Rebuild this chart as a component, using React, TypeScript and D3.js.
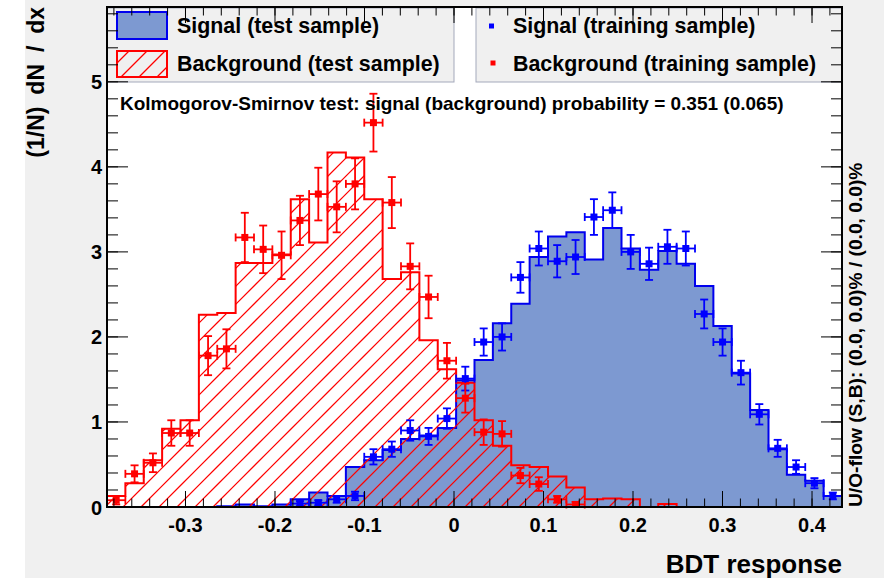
import React from 'react';
import * as d3 from 'd3';

const W = 896;
const H = 578;

// Histogram range of the BDT response (40 equal-width bins)
const X_MIN = -0.3877;
const X_MAX = 0.4335;
const N_BINS = 40;
const Y_MAX = 5.88;

const xTickValues = [-0.3, -0.2, -0.1, 0, 0.1, 0.2, 0.3, 0.4];
const xTickLabels = ['-0.3', '-0.2', '-0.1', '0', '0.1', '0.2', '0.3', '0.4'];
const yTickValues = [0, 1, 2, 3, 4, 5];
const yTickLabels = ['0', '1', '2', '3', '4', '5'];

// Normalised test-sample histograms, one value per bin
const signalTest = [
  0, 0, 0, 0, 0, 0, 0.01, 0.03, 0.01, 0.03,
  0.09, 0.17, 0.13, 0.47, 0.55, 0.67, 0.8, 0.84, 0.93, 1.49,
  1.73, 2.16, 2.39, 2.94, 3.18, 3.23, 2.91, 3.28, 3.04, 2.79,
  3.01, 2.86, 2.6, 2.13, 1.57, 1.14, 0.68, 0.38, 0.31, 0.13,
];
const backgroundTest = [
  0.13, 0.28, 0.55, 0.92, 1.02, 2.26, 2.28, 2.87, 2.87, 2.97,
  3.62, 3.11, 4.17, 4.11, 3.62, 2.68, 2.76, 1.96, 1.62, 1.46,
  1.02, 0.72, 0.49, 0.47, 0.36, 0.23, 0.09, 0.1, 0.09, 0,
  0.035, 0, 0, 0, 0, 0, 0, 0, 0, 0,
];

// Training-sample points (null = empty bin) and their statistical errors
const signalTrain = [
  null, null, null, null, null, null, null, null, null, null,
  0.04, 0.05, 0.09, 0.13, 0.59, 0.68, 0.9, 0.83, 1.04, 1.51,
  1.94, 2.0, 2.7, 3.04, 2.89, 2.94, 3.41, 3.49, 3.0, 2.86,
  3.06, 3.04, 2.27, 1.94, 1.58, 1.09, 0.69, 0.47, 0.28, 0.13,
];
const signalTrainErr = [
  0, 0, 0, 0, 0, 0, 0, 0, 0, 0,
  0.03, 0.03, 0.04, 0.05, 0.09, 0.09, 0.12, 0.1, 0.12, 0.14,
  0.16, 0.16, 0.18, 0.2, 0.19, 0.2, 0.21, 0.21, 0.2, 0.19,
  0.2, 0.2, 0.17, 0.16, 0.14, 0.12, 0.1, 0.08, 0.06, 0.04,
];
const backgroundTrain = [
  0.08, 0.39, 0.52, 0.87, 0.87, 1.78, 1.86, 3.17, 3.03, 2.96,
  3.37, 3.68, 3.53, 3.8, 4.52, 3.58, 2.83, 2.47, 1.72, 1.28,
  0.88, 0.86, 0.37, 0.27, 0.09, 0.03, null, null, null, null,
  null, null, null, null, null, null, null, null, null, null,
];
const backgroundTrainErr = [
  0.05, 0.1, 0.11, 0.15, 0.15, 0.23, 0.23, 0.29, 0.28, 0.28,
  0.29, 0.31, 0.3, 0.3, 0.34, 0.3, 0.27, 0.25, 0.21, 0.17,
  0.15, 0.15, 0.09, 0.08, 0.04, 0.03, 0, 0, 0, 0,
  0, 0, 0, 0, 0, 0, 0, 0, 0, 0,
];

const legendEntries = {
  sigTest: 'Signal (test sample)',
  bkgTest: 'Background (test sample)',
  sigTrain: 'Signal (training sample)',
  bkgTrain: 'Background (training sample)',
};
const ksText = 'Kolmogorov-Smirnov test: signal (background) probability = 0.351 (0.065)';
const xTitle = 'BDT response';
const yTitle = '(1/N) dN / dx';
const flowText = 'U/O-flow (S,B): (0.0, 0.0)% / (0.0, 0.0)%';

const FRAME = { l: 107, r: 842, t: 7, b: 507 };
const FONT = '"Liberation Sans", Arial, Helvetica, sans-serif';
const SIG_FILL = '#7d99d1';
const SIG_LINE = '#0000ee';
const SIG_MARK = '#0000ff';
const BKG_LINE = '#ff0000';
const CANVAS = '#f0f0f0';
const HATCH_STEP = 18;

type Box = { x0: number; x1: number; y0: number; y1: number }; // pixel box, y0 < y1

// 45-degree hatch ("/" direction: x + y = c) restricted to a union of boxes
function hatchPath(boxes: Box[], step: number): string {
  if (!boxes.length) return '';
  const cMin = d3.min(boxes, (b) => b.x0 + b.y0) as number;
  const cMax = d3.max(boxes, (b) => b.x1 + b.y1) as number;
  const start = Math.floor(cMin / step) * step;
  let d = '';
  for (let c = start; c <= cMax; c += step) {
    for (const b of boxes) {
      const xa = Math.max(b.x0, c - b.y1);
      const xb = Math.min(b.x1, c - b.y0);
      if (xb > xa) {
        d += `M${xa.toFixed(2)},${(c - xa).toFixed(2)}L${xb.toFixed(2)},${(c - xb).toFixed(2)}`;
      }
    }
  }
  return d;
}

export default function App() {
  const xs = d3.scaleLinear().domain([X_MIN, X_MAX]).range([FRAME.l, FRAME.r]);
  const ys = d3.scaleLinear().domain([0, Y_MAX]).range([FRAME.b, FRAME.t]);
  const binW = (X_MAX - X_MIN) / N_BINS;
  const edges = d3.range(N_BINS + 1).map((i) => X_MIN + i * binW);

  const line = d3
    .line<[number, number]>()
    .x((d) => xs(d[0]))
    .y((d) => ys(d[1]));

  const stepPoints = (vals: number[]): [number, number][] => {
    const pts: [number, number][] = [[edges[0], 0]];
    vals.forEach((v, i) => {
      pts.push([edges[i], v]);
      pts.push([edges[i + 1], v]);
    });
    pts.push([edges[N_BINS], 0]);
    return pts;
  };

  const sigPath = line(stepPoints(signalTest)) as string;
  const bkgPath = line(stepPoints(backgroundTest)) as string;

  const bkgBoxes: Box[] = backgroundTest
    .map((v, i) => ({ x0: xs(edges[i]), x1: xs(edges[i + 1]), y0: ys(v), y1: ys(0) }))
    .filter((b) => b.y1 - b.y0 > 0.5);
  const bkgHatch = hatchPath(bkgBoxes, HATCH_STEP);
  const legendHatch = hatchPath([{ x0: 117, x1: 167, y0: 51, y1: 77 }], HATCH_STEP);

  const xMinor = d3
    .range(-19, 22)
    .map((i) => i * 0.02)
    .filter((v) => v >= X_MIN && v <= X_MAX);
  const yMinor = d3
    .range(0, 30)
    .map((i) => i * 0.2)
    .filter((v) => v <= Y_MAX + 1e-9);

  const renderPoints = (
    vals: (number | null)[],
    errs: number[],
    color: string,
    key: string
  ) =>
    vals.map((v, i) => {
      if (v === null) return null;
      const cx = xs(edges[i] + binW / 2);
      const cy = ys(v);
      const x0 = xs(edges[i]);
      const x1 = xs(edges[i + 1]);
      const yLo = ys(Math.max(0, v - errs[i]));
      const yHi = ys(v + errs[i]);
      const cap = 4;
      return (
        <g key={`${key}-${i}`} stroke={color} strokeWidth={1.8} fill="none">
          <line x1={cx} x2={cx} y1={yLo} y2={yHi} />
          <line x1={cx - cap} x2={cx + cap} y1={yHi} y2={yHi} />
          <line x1={cx - cap} x2={cx + cap} y1={yLo} y2={yLo} />
          <line x1={x0} x2={x1} y1={cy} y2={cy} />
          <line x1={x0} x2={x0} y1={cy - cap} y2={cy + cap} />
          <line x1={x1} x2={x1} y1={cy - cap} y2={cy + cap} />
          <rect x={cx - 3.5} y={cy - 3.5} width={7} height={7} fill={color} stroke="none" />
        </g>
      );
    });

  const majX = 16;
  const minX = 8.5;
  const majY = 21;
  const minY = 11;

  return (
    <svg
      width={W}
      height={H}
      viewBox={`0 0 ${W} ${H}`}
      style={{ position: 'absolute', left: 0, top: 0, background: '#ffffff' }}
      fontFamily={FONT}
    >
      {/* canvas and frame */}
      <rect x={25} y={0} width={859} height={H} fill={CANVAS} />
      <rect x={FRAME.l} y={FRAME.t} width={FRAME.r - FRAME.l} height={FRAME.b - FRAME.t} fill="#ffffff" />

      {/* signal (test sample) */}
      <path d={sigPath + 'Z'} fill={SIG_FILL} stroke="none" />
      <path d={sigPath} fill="none" stroke={SIG_LINE} strokeWidth={2} />
      {/* background (test sample), hatched */}
      <path d={bkgHatch} fill="none" stroke={BKG_LINE} strokeWidth={1.25} />
      <path d={bkgPath} fill="none" stroke={BKG_LINE} strokeWidth={2} />
      {/* training samples */}
      {renderPoints(signalTrain, signalTrainErr, SIG_MARK, 'sig')}
      {renderPoints(backgroundTrain, backgroundTrainErr, BKG_LINE, 'bkg')}

      {/* legends */}
      <g>
        <rect x={FRAME.l} y={FRAME.t + 1} width={454 - FRAME.l} height={82 - FRAME.t - 1} fill={CANVAS} stroke="#a4a9bb" strokeWidth={1} />
        <rect x={117} y={12} width={50} height={27} fill={SIG_FILL} stroke={SIG_LINE} strokeWidth={2} />
        <path d={legendHatch} fill="none" stroke={BKG_LINE} strokeWidth={1.25} />
        <rect x={117} y={51} width={50} height={26} fill="none" stroke={BKG_LINE} strokeWidth={2} />
        <text x={177} y={33} fontSize={21.4} fontWeight="bold" fill="#000">
          {legendEntries.sigTest}
        </text>
        <text x={177} y={70.5} fontSize={21.4} fontWeight="bold" fill="#000">
          {legendEntries.bkgTest}
        </text>

        <rect x={476} y={FRAME.t + 1} width={FRAME.r - 476} height={82 - FRAME.t - 1} fill={CANVAS} stroke="#a4a9bb" strokeWidth={1} />
        <rect x={489} y={23.5} width={5} height={5} fill={SIG_MARK} />
        <rect x={490.5} y={60.5} width={5} height={5} fill={BKG_LINE} />
        <text x={513} y={33} fontSize={21.4} fontWeight="bold" fill="#000">
          {legendEntries.sigTrain}
        </text>
        <text x={513} y={70.5} fontSize={21.4} fontWeight="bold" fill="#000">
          {legendEntries.bkgTrain}
        </text>
      </g>

      <text x={120} y={110} fontSize={19} fontWeight="bold" fill="#000">
        {ksText}
      </text>

      {/* axes: ticks on all four sides */}
      <g stroke="#000" strokeWidth={1}>
        {xMinor.map((v, i) => (
          <g key={`xm${i}`}>
            <line x1={xs(v)} x2={xs(v)} y1={FRAME.b} y2={FRAME.b - minX} />
            <line x1={xs(v)} x2={xs(v)} y1={FRAME.t} y2={FRAME.t + minX} />
          </g>
        ))}
        {xTickValues.map((v, i) => (
          <g key={`xM${i}`}>
            <line x1={xs(v)} x2={xs(v)} y1={FRAME.b} y2={FRAME.b - majX} />
            <line x1={xs(v)} x2={xs(v)} y1={FRAME.t} y2={FRAME.t + majX} />
          </g>
        ))}
        {yMinor.map((v, i) => (
          <g key={`ym${i}`}>
            <line x1={FRAME.l} x2={FRAME.l + minY} y1={ys(v)} y2={ys(v)} />
            <line x1={FRAME.r} x2={FRAME.r - minY} y1={ys(v)} y2={ys(v)} />
          </g>
        ))}
        {yTickValues.map((v, i) => (
          <g key={`yM${i}`}>
            <line x1={FRAME.l} x2={FRAME.l + majY} y1={ys(v)} y2={ys(v)} />
            <line x1={FRAME.r} x2={FRAME.r - majY} y1={ys(v)} y2={ys(v)} />
          </g>
        ))}
      </g>
      <rect
        x={FRAME.l}
        y={FRAME.t}
        width={FRAME.r - FRAME.l}
        height={FRAME.b - FRAME.t}
        fill="none"
        stroke="#000"
        strokeWidth={2}
      />

      {/* tick labels */}
      <g fontSize={20} fontWeight="bold" fill="#000">
        {xTickValues.map((v, i) => (
          <text key={`xl${i}`} x={xs(v)} y={532} textAnchor="middle">
            {xTickLabels[i]}
          </text>
        ))}
        {yTickValues.map((v, i) => (
          <text key={`yl${i}`} x={102} y={ys(v) + 7.5} textAnchor="end">
            {yTickLabels[i]}
          </text>
        ))}
      </g>

      {/* titles */}
      <text x={FRAME.r} y={573} fontSize={26} fontWeight="bold" textAnchor="end" fill="#000">
        {xTitle}
      </text>
      <text
        transform={`translate(44,${FRAME.t}) rotate(-90)`}
        fontSize={23}
        fontWeight="bold"
        textAnchor="end"
        fill="#000"
        style={{ wordSpacing: '5.5px' }}
      >
        {yTitle}
      </text>
      <text
        transform={`translate(862,${FRAME.b}) rotate(-90)`}
        fontSize={19.2}
        fontWeight="bold"
        textAnchor="start"
        fill="#000"
      >
        {flowText}
      </text>
    </svg>
  );
}
